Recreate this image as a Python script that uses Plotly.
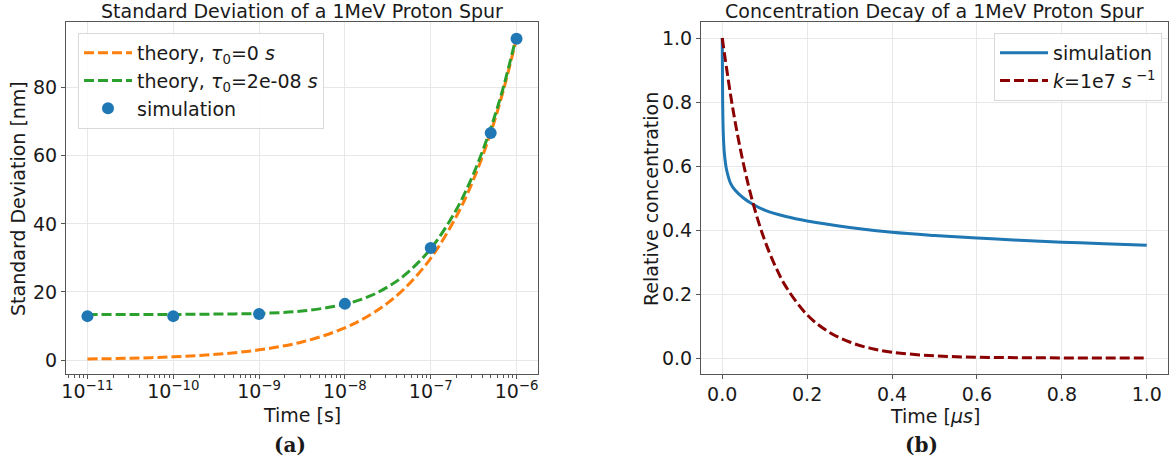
import plotly.graph_objects as go

# ---------------- data ----------------
# (a) standard deviation vs time
sim_t = [1e-11, 1e-10, 1e-9, 1e-8, 1e-7, 5e-7, 1e-6]
sim_sd = [12.9, 12.9, 13.5, 16.5, 32.9, 66.7, 94.4]

theo_t = [1e-11, 3.16e-11, 1e-10, 3.16e-10, 1e-9, 3.16e-9, 1e-8, 2e-8, 3.16e-8,
          5e-8, 1e-7, 2e-7, 3.16e-7, 5e-7, 7e-7, 1e-6]
theo0_sd = [0.30, 0.53, 0.95, 1.68, 2.99, 5.31, 9.45, 13.4, 16.8,
            21.1, 29.9, 42.3, 53.1, 66.8, 79.1, 94.5]
theo2_sd = [13.4, 13.4, 13.4, 13.5, 13.7, 14.4, 16.4, 18.9, 21.5,
            25.0, 32.7, 44.3, 54.8, 68.1, 80.0, 95.4]

# (b) relative concentration vs time [us]
conc_t = [0, 0.001, 0.0025, 0.005, 0.01, 0.02, 0.03, 0.05, 0.07, 0.1, 0.15,
          0.2, 0.3, 0.4, 0.5, 0.6, 0.7, 0.8, 0.9, 1.0]
conc_sim = [1.0, 0.80, 0.70, 0.64, 0.59, 0.545, 0.525, 0.50, 0.482, 0.462, 0.442,
            0.428, 0.408, 0.393, 0.383, 0.375, 0.368, 0.362, 0.357, 0.352]
decay_t = [0, 0.025, 0.05, 0.075, 0.1, 0.125, 0.15, 0.2, 0.25, 0.3, 0.35, 0.4,
           0.5, 0.6, 0.7, 0.8, 0.9, 1.0]
decay_k = [1.0, 0.779, 0.607, 0.472, 0.368, 0.287, 0.223, 0.135, 0.082, 0.050,
           0.030, 0.018, 0.0067, 0.0025, 0.0009, 0.0003, 0.0001, 0.00005]

log_ticks = [1e-11, 1e-10, 1e-9, 1e-8, 1e-7, 1e-6]
log_ticktext = ["10<sup>−11</sup>", "10<sup>−10</sup>", "10<sup>−9</sup>",
                "10<sup>−8</sup>", "10<sup>−7</sup>", "10<sup>−6</sup>"]
sd_ticks = [0, 20, 40, 60, 80]
lin_ticks = [0, 0.2, 0.4, 0.6, 0.8, 1.0]
lin_ticktext = ["0.0", "0.2", "0.4", "0.6", "0.8", "1.0"]

BLUE = "#1f77b4"
ORANGE = "#ff7f0e"
GREEN = "#2ca02c"
DARKRED = "#8b0000"
FONT = "DejaVu Sans"
FS = 19
TXT = "#1a1a1a"

fig = go.Figure()

fig.add_trace(go.Scatter(
    x=theo_t, y=theo0_sd, mode="lines", line_shape="spline",
    line=dict(color=ORANGE, width=3, dash="10px,4px"),
    name="theory, <i>τ</i><sub>0</sub>=0 <i>s</i>", xaxis="x", yaxis="y", legend="legend"))
fig.add_trace(go.Scatter(
    x=theo_t, y=theo2_sd, mode="lines", line_shape="spline",
    line=dict(color=GREEN, width=3, dash="10px,4px"),
    name="theory, <i>τ</i><sub>0</sub>=2e-08 <i>s</i>", xaxis="x", yaxis="y", legend="legend"))
fig.add_trace(go.Scatter(
    x=sim_t, y=sim_sd, mode="markers",
    marker=dict(color=BLUE, size=12),
    name="simulation", xaxis="x", yaxis="y", legend="legend"))

fig.add_trace(go.Scatter(
    x=conc_t, y=conc_sim, mode="lines", line_shape="spline",
    line=dict(color=BLUE, width=3),
    name="simulation", xaxis="x2", yaxis="y2", legend="legend2"))
fig.add_trace(go.Scatter(
    x=decay_t, y=decay_k, mode="lines", line_shape="spline",
    line=dict(color=DARKRED, width=3, dash="10px,4px"),
    name="<i>k</i>=1e7 <i>s</i><sup> −1</sup>", xaxis="x2", yaxis="y2", legend="legend2"))

W, H = 1170, 459
L1, R1, L2, R2, TOP, BOT = 66, 538, 701, 1168, 22, 374

ax_common = dict(
    showline=True, linecolor="#555555", linewidth=1.2, mirror=True,
    ticks="outside", ticklen=4, tickcolor="#555555",
    showgrid=True, gridcolor="#e8e8e8", gridwidth=1, zeroline=False,
    tickfont=dict(family=FONT, size=FS, color=TXT),
    automargin=False,
)

minor_vals = []
for e in range(-12, -5):
    for m in range(2, 10):
        minor_vals.append(m * 10.0 ** e)


def ann(text, x, y, size=FS, family=FONT, angle=0):
    return dict(text=text, x=x / W, y=1 - y / H, xref="paper", yref="paper",
                showarrow=False, xanchor="center", yanchor="middle", textangle=angle,
                font=dict(family=family, size=size, color=TXT))


legend_common = dict(bgcolor="rgba(255,255,255,0.85)", bordercolor="#d9d9d9", borderwidth=1,
                     font=dict(family=FONT, size=FS, color=TXT), tracegroupgap=0,
                     itemwidth=48)

fig.update_layout(
    width=W, height=H,
    margin=dict(l=0, r=0, t=0, b=0),
    paper_bgcolor="white", plot_bgcolor="white",
    font=dict(family=FONT, size=FS, color=TXT),
    xaxis=dict(ax_common, type="log", domain=[L1 / W, R1 / W], anchor="y",
               range=[-11.25, -5.75], tickvals=log_ticks, ticktext=log_ticktext,
               ticklabelstandoff=-4,
               minor=dict(tickvals=minor_vals, ticks="outside", ticklen=2.5,
                          tickcolor="#555555", showgrid=False)),
    yaxis=dict(ax_common, domain=[(H - BOT) / H, (H - TOP) / H], anchor="x",
               range=[-4.1, 99.3], tickvals=sd_ticks),
    xaxis2=dict(ax_common, domain=[L2 / W, R2 / W], anchor="y2",
                range=[-0.05, 1.05], tickvals=lin_ticks, ticktext=lin_ticktext,
                ticklabelstandoff=-1),
    yaxis2=dict(ax_common, domain=[(H - BOT) / H, (H - TOP) / H], anchor="x2",
                range=[-0.05, 1.05], tickvals=lin_ticks, ticktext=lin_ticktext),
    legend=dict(legend_common, x=78 / W, y=1 - 33 / H, xanchor="left", yanchor="top"),
    legend2=dict(legend_common, x=1162 / W, y=1 - 33 / H, xanchor="right", yanchor="top"),
    annotations=[
        ann("Standard Deviation of a 1MeV Proton Spur", (L1 + R1) / 2, 11),
        ann("Concentration Decay of a 1MeV Proton Spur", (L2 + R2) / 2, 11),
        ann("Time [s]", 302, 415),
        ann("Time [<i>μs</i>]", 935, 416),
        ann("Standard Deviation [nm]", 18, 199, angle=-90),
        ann("Relative concentration", 651, 199, angle=-90),
        ann("<b>(a)</b>", 290, 445, size=20, family="DejaVu Serif"),
        ann("<b>(b)</b>", 921, 445, size=20, family="DejaVu Serif"),
    ],
)

fig.write_html("out.html", config={"displayModeBar": False},
               post_script="document.body.style.margin='0';document.body.style.overflow='hidden';")
